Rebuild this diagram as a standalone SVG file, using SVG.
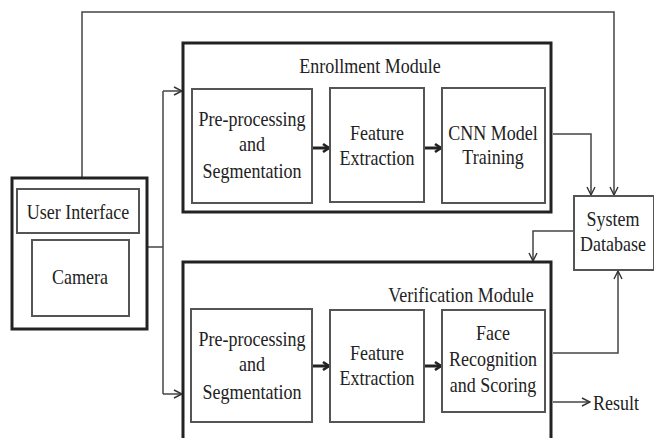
<svg xmlns="http://www.w3.org/2000/svg" width="654" height="438" viewBox="0 0 654 438">
<defs>
<marker id="open" viewBox="0 0 10 10" refX="9" refY="5" markerWidth="10" markerHeight="10" markerUnits="userSpaceOnUse" orient="auto">
<path d="M1,1 L9,5 L1,9" fill="none" stroke="#333" stroke-width="1.4"/>
</marker>
<marker id="bold" viewBox="0 0 10 10" refX="8" refY="5" markerWidth="10" markerHeight="12" markerUnits="userSpaceOnUse" orient="auto">
<path d="M2,1 L8,5 L2,9" fill="none" stroke="#222" stroke-width="2.6"/>
</marker>
</defs>
<style>
text{font-family:'Liberation Serif','DejaVu Serif',serif;font-size:18px;fill:#222;text-anchor:middle}
.mod{fill:none;stroke:#222;stroke-width:3}
.box{fill:#fff;stroke:#555;stroke-width:2}
.con{fill:none;stroke:#444;stroke-width:1.5}
.thick{fill:none;stroke:#222;stroke-width:3}
</style>
<rect width="654" height="438" fill="#fff"/>
<g id="connectors">
<polyline class="con" points="82,178 82,12 614,12 614,195" marker-end="url(#open)"/>
<polyline class="con" points="147,247 163,247"/>
<polyline class="con" points="163,91 163,394"/>
<line class="con" x1="163" y1="91" x2="182" y2="91" marker-end="url(#open)"/>
<line class="con" x1="163" y1="394" x2="182" y2="394" marker-end="url(#open)"/>
<polyline class="con" points="553,134 591,134 591,195" marker-end="url(#open)"/>
<polyline class="con" points="574,231 533,231 533,261" marker-end="url(#open)"/>
<polyline class="con" points="553,353 618,353 618,271" marker-end="url(#open)"/>
<line class="con" x1="553" y1="402" x2="590" y2="402" marker-end="url(#open)"/>
<line class="thick" x1="312" y1="148" x2="329" y2="148" marker-end="url(#bold)"/>
<line class="thick" x1="424" y1="148" x2="441" y2="148" marker-end="url(#bold)"/>
<line class="thick" x1="312" y1="366" x2="329" y2="366" marker-end="url(#bold)"/>
<line class="thick" x1="424" y1="366" x2="441" y2="366" marker-end="url(#bold)"/>
</g>
<g id="user-interface">
<rect class="mod" x="12" y="178" width="135" height="151"/>
<rect class="box" x="17" y="189" width="122" height="44"/>
<text transform="translate(78,219) scale(1,1.18)">User Interface</text>
</g>
<g id="camera">
<rect class="box" x="32" y="240" width="97" height="76"/>
<text transform="translate(80,284) scale(1,1.18)">Camera</text>
</g>
<g id="enrollment-module">
<rect class="mod" x="183" y="43" width="368" height="169"/>
<text transform="translate(370,73) scale(1,1.18)">Enrollment Module</text>
</g>
<g id="enroll-preprocessing">
<rect class="box" x="192" y="89" width="120" height="114"/>
<text transform="translate(252,126) scale(1,1.18)">Pre-processing</text>
<text transform="translate(252,151) scale(1,1.18)">and</text>
<text transform="translate(252,178) scale(1,1.18)">Segmentation</text>
</g>
<g id="enroll-feature">
<rect class="box" x="330" y="88" width="94" height="114"/>
<text transform="translate(377,140) scale(1,1.18)">Feature</text>
<text transform="translate(377,165) scale(1,1.18)">Extraction</text>
</g>
<g id="enroll-cnn">
<rect class="box" x="442" y="88" width="103" height="115"/>
<text transform="translate(493,140) scale(1,1.18)">CNN Model</text>
<text transform="translate(493,164) scale(1,1.18)">Training</text>
</g>
<g id="system-database">
<rect class="box" x="574" y="196" width="80" height="74"/>
<text transform="translate(613,226) scale(1,1.18)">System</text>
<text transform="translate(613,251) scale(1,1.18)">Database</text>
</g>
<g id="verification-module">
<rect class="mod" x="183" y="262" width="368" height="190"/>
<text transform="translate(461,302) scale(1,1.18)">Verification Module</text>
</g>
<g id="verify-preprocessing">
<rect class="box" x="191" y="309" width="121" height="113"/>
<text transform="translate(252,346) scale(1,1.18)">Pre-processing</text>
<text transform="translate(252,371) scale(1,1.18)">and</text>
<text transform="translate(252,399) scale(1,1.18)">Segmentation</text>
</g>
<g id="verify-feature">
<rect class="box" x="330" y="310" width="94" height="112"/>
<text transform="translate(377,360) scale(1,1.18)">Feature</text>
<text transform="translate(377,385) scale(1,1.18)">Extraction</text>
</g>
<g id="verify-face">
<rect class="box" x="442" y="310" width="103" height="102"/>
<text transform="translate(493,340) scale(1,1.18)">Face</text>
<text transform="translate(493,366) scale(1,1.18)">Recognition</text>
<text transform="translate(493,392) scale(1,1.18)">and Scoring</text>
</g>
<g id="result">
<text transform="translate(593,410) scale(1,1.18)" style="text-anchor:start">Result</text>
</g>
</svg>
